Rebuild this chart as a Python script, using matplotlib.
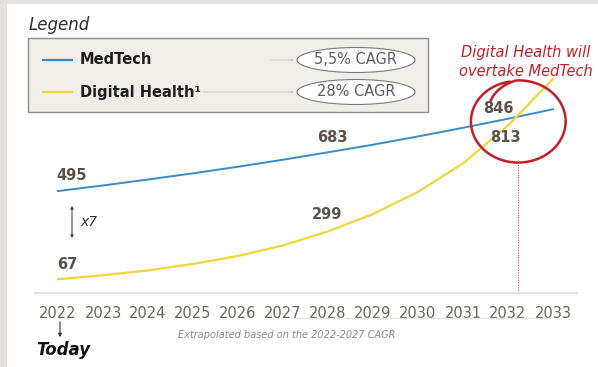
import numpy as np
import matplotlib
matplotlib.use("Agg")
import matplotlib.pyplot as plt
from matplotlib.patches import Rectangle, Ellipse, FancyArrowPatch

W, H = 598, 367

years = list(range(2022, 2034))
medtech = [495, 522, 551, 581, 613, 647, 683, 720, 760, 802, 846, 892]
digital = [67, 86, 110, 141, 180, 231, 299, 383, 491, 629, 813, 1040]

legend_names = ["MedTech", "Digital Health\u00b9"]
legend_cagr = ["5,5% CAGR", "28% CAGR"]

BLUE = "#3b8bc6"
YELLOW = "#f1d53b"
RED = "#c21f2b"
NUM = "#59514b"
TICK = "#6b635d"

plt.rcParams["font.family"] = "DejaVu Sans"


def fx(px):
    return px / W


def fy(py):
    return 1 - py / H


fig = plt.figure(figsize=(W / 100, H / 100), dpi=100, facecolor="white")

# page frame
fig.patches.append(Rectangle((0, 0), fx(7), 1, transform=fig.transFigure,
                             facecolor="#e4e2df", edgecolor="none", zorder=0))
fig.patches.append(Rectangle((0, fy(4)), 1, 4 / H, transform=fig.transFigure,
                             facecolor="#e4e2df", edgecolor="none", zorder=0))

ax = fig.add_axes([fx(35), fy(293), (577 - 35) / W, (293 - 20) / H])
ax.set_facecolor("none")
ax.plot(years, medtech, color=BLUE, lw=1.4, zorder=3, solid_joinstyle="round")
ax.plot(years, digital, color=YELLOW, lw=1.6, zorder=3, solid_joinstyle="round")
ax.set_xlim(2022 - 23 / 45, 2033 + 24 / 45)
ax.set_ylim(0, 273 / 0.206)
ax.set_xticks(years)
ax.set_xticklabels([str(y) for y in years], fontsize=10.5, color=TICK)
ax.tick_params(axis="x", length=0, pad=9)
ax.set_yticks([])
for s in ["top", "right", "left"]:
    ax.spines[s].set_visible(False)
ax.spines["bottom"].set_color("#e2e2e2")
ax.spines["bottom"].set_linewidth(1.5)


# value labels
def value_label(series, year, dx, dy):
    v = series[years.index(year)]
    ax.annotate(str(v), (year, v), xytext=(dx, -dy), textcoords="offset pixels",
                ha="center", va="center", fontsize=10.5, fontweight="bold",
                color=NUM, zorder=5)


value_label(medtech, 2022, 14, -16)
value_label(medtech, 2028, 4, -15)
value_label(medtech, 2032, -10, -10)
value_label(digital, 2022, 9, -15)
value_label(digital, 2028, -1, -17)
value_label(digital, 2032, -3, 12)

# crossing marker line
ax.plot([2032.22, 2032.22], [0, 645], color=RED, lw=0.9, ls=(0, (1, 1)), alpha=0.7, zorder=2)

# hand drawn circle, starting inside with a small tail
n = 220
s = np.linspace(0, 1, n)
t = np.radians(140) - s * np.radians(400)
r = 1 + 0.04 * np.sin(s * np.pi) - 0.22 * np.clip(1 - s / 0.12, 0, 1)
cx, cy = 518, 121
px = cx + 46 * r * np.cos(t)
py = cy - 40 * r * np.sin(t)
fig.lines.append(plt.Line2D(fx(px), fy(py), transform=fig.transFigure,
                            color=RED, lw=1.8, zorder=6, solid_capstyle="round"))

fig.text(fx(526), fy(52), "Digital Health will", ha="center", va="center",
         fontsize=10.5, style="italic", color=RED)
fig.text(fx(526), fy(72), "overtake MedTech", ha="center", va="center",
         fontsize=10.5, style="italic", color=RED)

# legend block
fig.text(fx(29), fy(25), "Legend", ha="left", va="center", fontsize=12,
         style="italic", color="#2f2f2f")
fig.patches.append(Rectangle((fx(28), fy(112)), 400 / W, 74 / H,
                             transform=fig.transFigure, facecolor="#efeee9",
                             edgecolor="#8c8c8c", lw=1, zorder=1))
rows_y = [60, 92]
line_colors = [BLUE, YELLOW]
arrow_start = [267, 200]
for name, cagr, yy, c, xa in zip(legend_names, legend_cagr, rows_y, line_colors, arrow_start):
    fig.lines.append(plt.Line2D([fx(43), fx(72)], [fy(yy), fy(yy)],
                                transform=fig.transFigure, color=c, lw=1.6, zorder=2))
    fig.text(fx(80), fy(yy), name, ha="left", va="center", fontsize=10.5,
             fontweight="bold", color="#1e1e1e", zorder=3)
    fig.patches.append(FancyArrowPatch((fx(xa), fy(yy)), (fx(297), fy(yy)),
                                       transform=fig.transFigure, arrowstyle="-|>",
                                       mutation_scale=4, color="#c9c9c9", lw=0.6, zorder=2))
    fig.patches.append(Ellipse((fx(356), fy(yy)), 118 / W, 25 / H,
                               transform=fig.transFigure, facecolor="white",
                               edgecolor="#7a7a7a", lw=0.8, zorder=2))
    fig.text(fx(356), fy(yy), cagr, ha="center", va="center", fontsize=10.5,
             color="#5e5e5e", zorder=3)

# x7 gap marker
fig.patches.append(FancyArrowPatch((fx(72), fy(203)), (fx(72), fy(241)),
                                   transform=fig.transFigure, arrowstyle="<|-|>",
                                   mutation_scale=4, color="#444444", lw=0.8, zorder=4))
fig.text(fx(80), fy(222), "x7", ha="left", va="center", fontsize=10,
         style="italic", color="#333333")

# today marker
fig.patches.append(FancyArrowPatch((fx(60), fy(319)), (fx(60), fy(340)),
                                   transform=fig.transFigure, arrowstyle="-|>",
                                   mutation_scale=5, color="#333333", lw=0.8, zorder=4))
fig.text(fx(36), fy(350), "Today", ha="left", va="center", fontsize=12,
         style="italic", fontweight="bold", color="#111111")

fig.lines.append(plt.Line2D([fx(297), fx(550)], [fy(318), fy(318)],
                            transform=fig.transFigure, color="#e3e3e3", lw=1))
fig.text(fx(178), fy(335), "Extrapolated based on the 2022-2027 CAGR", ha="left",
         va="center", fontsize=7, style="italic", color="#8a8a8a")

fig.savefig("out.png", dpi=100, facecolor="white")
